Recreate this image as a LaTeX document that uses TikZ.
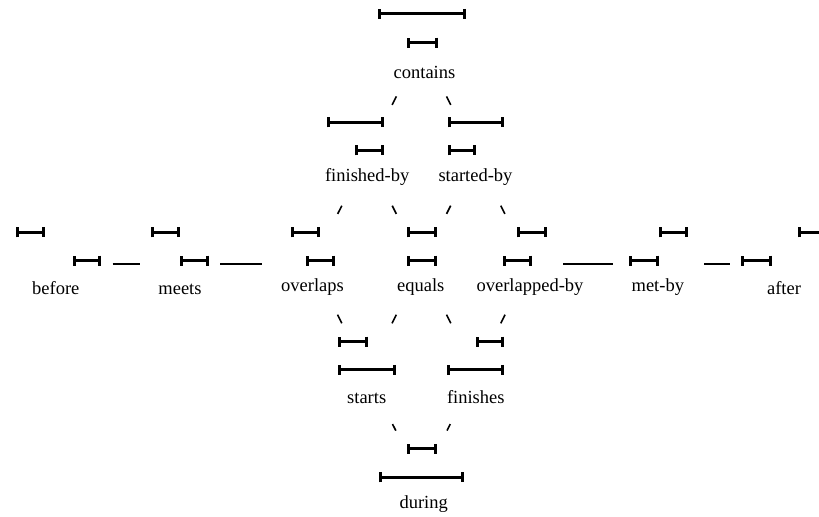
\documentclass[tikz,border=0pt]{standalone}
\usepackage{fontspec}
\setmainfont{Liberation Serif}
\usetikzlibrary{arrows.meta}

\tikzset{
    rel/.style={rectangle, inner sep=0pt, minimum width=40pt, minimum height=50pt},
    lab/.style={anchor=base, inner sep=0pt},
    ivl/.style={line width=1.5pt, {Bar[width=5pt]}-{Bar[width=5pt]}},
    link/.style={line width=0.8pt}
}

\begin{document}
\begin{tikzpicture}[x=0.5pt, y=-0.5pt, font=\fontsize{9.25}{11}\selectfont]
    \useasboundingbox (0,0) rectangle (819,517);

    % Invisible boxes, one per relation
    \node[rel] (contains) at (421.5,46) {};
    \node[rel] (finishedby) at (367,155.3) {};
    \node[rel] (startedby) at (475.7,155.3) {};
    \node[rel, minimum width=54pt] (before) at (58.2,264.3) {};
    \node[rel, minimum width=40pt] (meets) at (180,264.3) {};
    \node[rel, minimum width=49.8pt] (overlaps) at (312.5,264.3) {};
    \node[rel] (equals) at (421.5,264.3) {};
    \node[rel, minimum width=32.7pt] (overlappedby) at (530,264.3) {};
    \node[rel, minimum width=45pt] (metby) at (658.8,264.3) {};
    \node[rel, minimum width=53.3pt] (after) at (784,264.3) {};
    \node[rel] (starts) at (366.8,373.7) {};
    \node[rel] (finishes) at (475.8,373.7) {};
    \node[rel] (during) at (421.5,481) {};

    % Names of the relations
    \node[lab] (t-contains) at (424.5,78.3) {contains};
    \node[lab] (t-finishedby) at (367.2,182) {finished-by};
    \node[lab] (t-startedby) at (475.5,182) {started-by};
    \node[lab] (t-before) at (55.8,295) {before};
    \node[lab] (t-meets) at (180,295) {meets};
    \node[lab] (t-overlaps) at (312.5,291.7) {overlaps};
    \node[lab] (t-equals) at (420.7,291.7) {equals};
    \node[lab] (t-overlappedby) at (530,291.7) {overlapped-by};
    \node[lab] (t-metby) at (657.8,291.7) {met-by};
    \node[lab] (t-after) at (784,295) {after};
    \node[lab] (t-starts) at (366.7,404) {starts};
    \node[lab] (t-finishes) at (475.8,404) {finishes};
    \node[lab] (t-during) at (423.7,508.3) {during};

    % Intervals drawn above each name
    \draw[ivl] (377.5,14) -- (465.5,14);
    \draw[ivl] (406.5,42.7) -- (437.5,42.7);

    \draw[ivl] (327.3,122.5) -- (384.3,122.5);
    \draw[ivl] (355.3,150.5) -- (384.3,150.5);
    \draw[ivl] (447.7,122.5) -- (504,122.5);
    \draw[ivl] (447.7,150.5) -- (475.7,150.5);

    \draw[ivl] (15.7,232.3) -- (45,232.3);
    \draw[ivl] (72.7,260.7) -- (100.7,260.7);
    \draw[ivl] (150.7,232.3) -- (180,232.3);
    \draw[ivl] (180,260.7) -- (209.3,260.7);
    \draw[ivl] (290.7,232.3) -- (320,232.3);
    \draw[ivl] (305.7,260.7) -- (334.7,260.7);
    \draw[ivl] (407.3,232.3) -- (436.7,232.3);
    \draw[ivl] (407.3,260.7) -- (436.7,260.7);
    \draw[ivl] (517.3,232.3) -- (546.7,232.3);
    \draw[ivl] (502.7,260.7) -- (531.7,260.7);
    \draw[ivl] (659,232.3) -- (688.3,232.3);
    \draw[ivl] (629.3,260.7) -- (659,260.7);
    \draw[ivl] (798.3,232.3) -- (827,232.3);
    \draw[ivl] (741,260.7) -- (771.7,260.7);

    \draw[ivl] (337.7,341.7) -- (367.7,341.7);
    \draw[ivl] (337.7,370) -- (396,370);
    \draw[ivl] (475.7,341.7) -- (504,341.7);
    \draw[ivl] (447.3,370) -- (504,370);

    \draw[ivl] (407.3,449) -- (436.7,449);
    \draw[ivl] (379,477.3) -- (464.3,477.3);

    % Links between neighbouring relations
    \draw[link] (before) -- (meets);
    \draw[link] (meets) -- (overlaps);
    \draw[link] (overlappedby) -- (metby);
    \draw[link] (metby) -- (after);

    \draw[link] (contains) -- (finishedby);
    \draw[link] (contains) -- (startedby);
    \draw[link] (finishedby) -- (overlaps);
    \draw[link] (finishedby) -- (equals);
    \draw[link] (startedby) -- (equals);
    \draw[link] (startedby) -- (overlappedby);
    \draw[link] (overlaps) -- (starts);
    \draw[link] (equals) -- (starts);
    \draw[link] (equals) -- (finishes);
    \draw[link] (overlappedby) -- (finishes);
    \draw[link] (starts) -- (during);
    \draw[link] (finishes) -- (during);
\end{tikzpicture}
\end{document}
